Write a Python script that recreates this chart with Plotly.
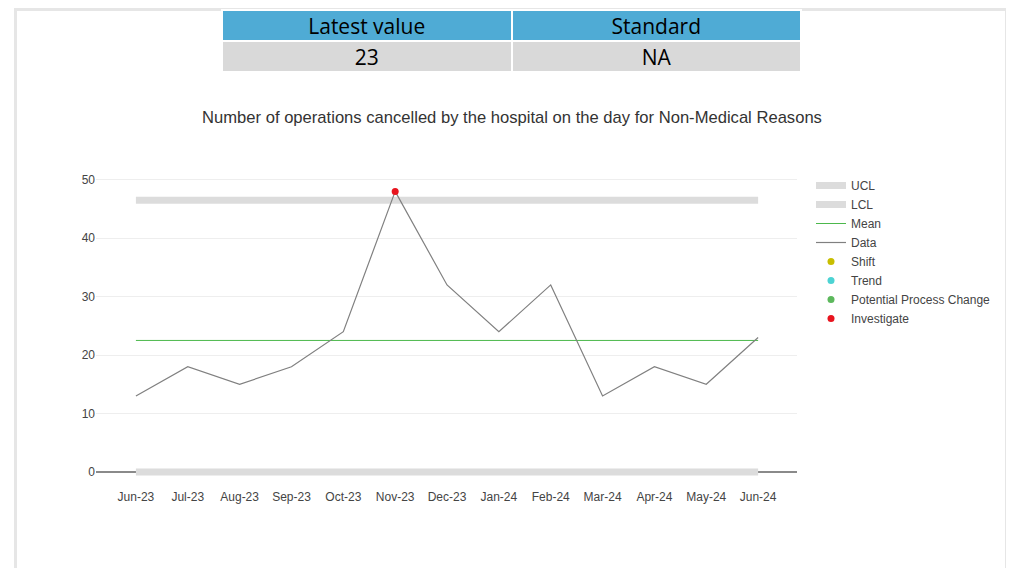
import plotly.graph_objects as go

# data
months = ["Jun-23", "Jul-23", "Aug-23", "Sep-23", "Oct-23", "Nov-23", "Dec-23",
          "Jan-24", "Feb-24", "Mar-24", "Apr-24", "May-24", "Jun-24"]
data = [13, 18, 15, 18, 24, 48, 32, 24, 32, 13, 18, 15, 23]
ucl = [46.5] * 13
lcl = [0] * 13
mean = [22.5] * 13
investigate = [None, None, None, None, None, 48, None, None, None, None, None, None, None]

table_header = ["Latest value", "Standard"]
table_values = ["23", "NA"]

W, H = 1014, 568
OFF = 8  # the page body adds an 8px margin


def px(x):
    return (x - OFF) / W


def py(y):
    return 1 - (y - OFF) / H


fig = go.Figure()

fig.add_trace(go.Table(
    domain=dict(x=[px(222), px(801)], y=[py(74), py(10)]),
    columnwidth=[1, 1],
    header=dict(values=table_header, fill_color="#4FABD5", height=31,
                line=dict(color="white", width=2), align="center",
                font=dict(family="Liberation Sans Narrow, Arial Narrow, Open Sans", size=21, color="black")),
    cells=dict(values=[[v] for v in table_values], fill_color="#D9D9D9", height=31,
               line=dict(color="white", width=2), align="center",
               font=dict(family="Liberation Sans Narrow, Arial Narrow, Open Sans", size=21, color="black")),
))

fig.add_trace(go.Scatter(x=months, y=ucl, name="UCL", mode="lines",
                         line=dict(color="#DCDCDC", width=7)))
fig.add_trace(go.Scatter(x=months, y=lcl, name="LCL", mode="lines",
                         line=dict(color="#DCDCDC", width=7)))
fig.add_trace(go.Scatter(x=months, y=mean, name="Mean", mode="lines",
                         line=dict(color="#4CB84C", width=1)))
fig.add_trace(go.Scatter(x=months, y=data, name="Data", mode="lines",
                         line=dict(color="#808080", width=1.2)))
fig.add_trace(go.Scatter(x=[None], y=[None], name="Shift", mode="markers",
                         marker=dict(color="#C8BE00", size=7)))
fig.add_trace(go.Scatter(x=[None], y=[None], name="Trend", mode="markers",
                         marker=dict(color="#4CD3D3", size=7)))
fig.add_trace(go.Scatter(x=[None], y=[None], name="Potential Process Change", mode="markers",
                         marker=dict(color="#5CB85C", size=7)))
fig.add_trace(go.Scatter(x=months, y=investigate, name="Investigate", mode="markers",
                         marker=dict(color="#E8141E", size=7)))

# page border
fig.add_shape(type="rect", xref="paper", yref="paper",
              x0=px(15.5), x1=px(1006.5), y0=py(590), y1=py(9.5),
              line=dict(color="#E6E6E6", width=3), fillcolor="rgba(0,0,0,0)", layer="below")

fig.update_layout(
    width=W, height=H,
    margin=dict(l=0, r=0, t=0, b=0),
    paper_bgcolor="white",
    plot_bgcolor="white",
    font=dict(family="Arial, Liberation Sans", color="#444", size=12),
    title=dict(text="Number of operations cancelled by the hospital on the day for Non-Medical Reasons",
               x=px(512), xanchor="center", y=py(117), yanchor="middle",
               font=dict(size=16.6, color="#333")),
    xaxis=dict(domain=[px(96), px(797)], type="category", range=[-0.77, 12.75],
               showgrid=False, showline=False, zeroline=False, ticks="",
               tickfont=dict(size=12), automargin=False),
    yaxis=dict(domain=[py(488), py(168)], range=[-2.74, 52], dtick=10,
               gridcolor="#EEEEEE", zeroline=True, zerolinecolor="#8A8A8A", zerolinewidth=2,
               showline=False, ticks="", tickfont=dict(size=12), automargin=False),
    legend=dict(x=px(811), xanchor="left", y=py(171), yanchor="top",
                font=dict(size=12), tracegroupgap=0, bgcolor="rgba(0,0,0,0)"),
    showlegend=True,
)

fig.write_html("out.html")
